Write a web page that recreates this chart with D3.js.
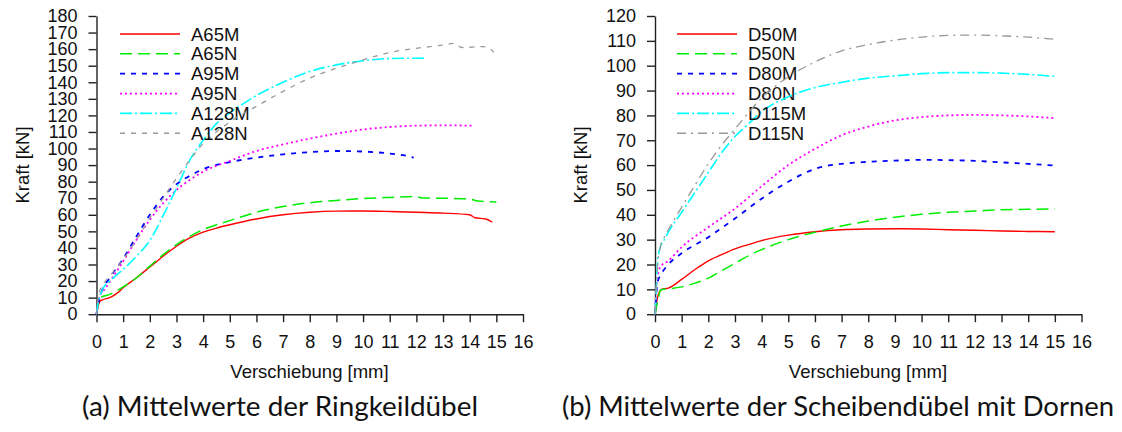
<!DOCTYPE html>
<html>
<head>
<meta charset="utf-8">
<script src="https://cdn.jsdelivr.net/npm/d3@7"></script>
<style>
  body { margin: 0; background: #fff; }
  .axis text { font-family: "Liberation Sans", Arial, sans-serif; font-size: 18px; fill: #111; }
  .axis path, .axis line { stroke: #222; stroke-width: 1.4; }
  .lbl { font-family: "Liberation Sans", Arial, sans-serif; font-size: 18.5px; fill: #111; }
  .cap { font-family: "Lato", sans-serif; font-size: 27px; fill: #111; }
</style>
</head>
<body>
<svg id="chart" width="1122" height="432"></svg>
<script>
// Ringkeildübel (a) -- [Verschiebung mm, Kraft kN]
const A65M = [[0,0],[0.05,4],[0.12,7.5],[0.2,8.5],[0.5,10],[0.8,13],[1,16],[1.5,22],[2,28.5],[2.5,35],[3,41],[3.5,46],[4,49.5],[4.5,52],[5,54],[6,57.5],[7,60],[8,61.5],[9,62.2],[10,62.3],[11,62],[12,61.5],[13,61],[14,60],[14.2,58.2],[14.6,57.5],[14.85,55.5]];
const A65N = [[0,0],[0.05,5],[0.15,10],[0.5,12],[1,16.5],[1.5,22],[2,29],[2.5,36],[3,42],[3.5,47],[4,51],[4.5,54],[5,56.5],[6,61.5],[7,65],[8,67.3],[9,68.7],[10,69.8],[11,70.5],[12,71],[12.2,70.2],[13,70],[14,69.5],[14.3,68.3],[15,67.8]];
const A95M = [[0,0],[0.05,5],[0.12,10],[0.2,14],[0.5,22],[1,33.5],[1.5,47],[2,60],[2.5,71],[3,78.5],[3.5,83.5],[4,87.5],[5,91.8],[6,94.5],[7,96.5],[8,97.8],[9,98.5],[10,98.2],[11,97],[11.5,96],[11.9,94.5]];
const A95N = [[0,0],[0.05,6],[0.15,12],[0.3,15],[0.6,22],[1,32],[1.5,45],[2,57],[2.5,67],[3,75],[3.5,81],[4,86],[5,92.5],[6,98.5],[7,102.5],[8,106],[9,109],[10,111.5],[11,113],[12,113.8],[13,114],[14.1,113.8]];
const A128M = [[0,0],[0.05,6],[0.15,12],[0.3,17],[0.5,20],[1,27],[1.5,35],[2,44.5],[2.5,59.5],[3,76],[3.5,93],[4,105],[4.5,115],[5,121.5],[5.5,127],[6,132],[7,140],[8,146.5],[9,150.5],[10,153],[11,154.3],[12,154.5],[12.4,154.5]];
const A128N = [[0,0],[0.05,8],[0.1,13],[0.3,19],[0.6,25],[1,33],[1.5,45],[2,58],[2.5,70],[3,82],[3.5,93],[4,103],[4.5,110],[5,116],[6,125.5],[7,134.5],[8,142.5],[9,148.5],[10,153.5],[11,158],[12,160.5],[13,162.5],[13.4,163.5],[13.7,161],[14.5,161.5],[14.7,161],[14.9,158]];

// Scheibendübel mit Dornen (b)
const D50M = [[0,0],[0.1,7],[0.25,10],[0.5,10.5],[1,14],[1.5,18],[2,21.5],[2.5,24],[3,26.3],[3.5,28],[4,29.6],[5,31.8],[6,33.2],[7,34],[8,34.3],[9,34.4],[10,34.3],[11,34],[12,33.8],[13,33.5],[14,33.3],[15,33.2]];
const D50N = [[0,0],[0.1,5],[0.2,9.5],[0.3,10],[0.5,10.2],[1,11],[1.5,12.5],[2,14.5],[2.5,17.5],[3,20.5],[3.5,23.5],[4,26],[5,30],[6,33],[6.5,34.3],[7,35.5],[8,37.5],[9,39],[10,40.2],[11,41],[12,41.5],[13,42],[14,42.2],[15,42.4]];
const D80M = [[0,0],[0.05,8],[0.1,13],[0.2,15.5],[0.5,20],[1,24.5],[2,31],[3,38.5],[4,46.5],[5,53.3],[6,58.5],[7,60.5],[8,61.3],[9,61.8],[10,62.1],[11,62],[12,61.7],[13,61.1],[14,60.5],[15,59.8]];
const D80N = [[0,0],[0.05,10],[0.1,15],[0.2,19],[0.5,21.5],[1,27],[2,35],[3,42.5],[4,51.5],[5,60],[6,66.5],[7,72],[8,75.5],[9,78],[10,79.3],[11,80],[12,80.2],[13,80],[14,79.6],[15,78.9]];
const D115M = [[0,0],[0.05,10],[0.1,22],[0.2,27],[0.35,30],[0.5,33],[1,41],[1.5,49],[2,57],[2.5,65],[3,71.5],[3.5,76.5],[4,81.5],[5,87.5],[6,91.2],[7,93.3],[8,95],[9,95.9],[10,96.8],[11,97.2],[12,97.2],[13,97],[14,96.5],[15,95.7]];
const D115N = [[0,0],[0.05,12],[0.1,20],[0.2,27],[0.35,31],[0.5,34],[1,43],[1.5,52],[2,60.5],[2.5,68],[3,74.5],[3.5,81],[4,87],[5,95.5],[6,101.5],[7,106],[8,108.5],[9,110.3],[10,111.5],[11,112.2],[12,112.3],[13,112],[14,111.5],[15,110.6]];

const xTicks = d3.range(0, 17, 1);
const yTicksA = d3.range(0, 181, 10);
const yTicksB = d3.range(0, 121, 10);

const styles = [
    { color: '#ff0000', dash: null, width: 1.4 },
    { color: '#00ee00', dash: '12,6', width: 1.5 },
    { color: '#0000ff', dash: '5,6', width: 1.8 },
    { color: '#ff00ff', dash: '2,3', width: 1.8 },
    { color: '#00ffff', dash: '12,3,2,3', width: 1.6 },
    { color: '#999999', dash: '5,6', width: 1.3 }
];
const stylesB = styles.slice(0, 5).concat([{ color: '#999999', dash: '9,5,2,5', width: 1.3 }]);

const svg = d3.select('#chart');

function drawPanel(cfg) {
    const x = d3.scaleLinear().domain([0, 16]).range([cfg.left, cfg.left + 426.5]);
    const y = d3.scaleLinear().domain([0, cfg.ymax]).range([314.2, 16]);

    svg.append('g')
        .attr('class', 'axis')
        .attr('transform', 'translate(0,314.2)')
        .call(d3.axisBottom(x).tickValues(xTicks).tickSize(8).tickSizeOuter(0).tickPadding(13));

    svg.append('g')
        .attr('class', 'axis')
        .attr('transform', `translate(${cfg.left},0)`)
        .call(d3.axisLeft(y).tickValues(cfg.yTicks).tickSize(8).tickSizeOuter(0).tickPadding(11));

    const line = d3.line()
        .x(d => x(d[0]))
        .y(d => y(d[1]))
        .curve(d3.curveMonotoneX);

    cfg.series.forEach((s, i) => {
        const st = cfg.styles[i];
        svg.append('path')
            .datum(s.data)
            .attr('fill', 'none')
            .attr('stroke', st.color)
            .attr('stroke-width', st.width)
            .attr('stroke-dasharray', st.dash)
            .attr('d', line);

        const ly = 34 + i * 19.85;
        svg.append('line')
            .attr('x1', cfg.legX).attr('x2', cfg.legX + 60)
            .attr('y1', ly).attr('y2', ly)
            .attr('stroke', st.color)
            .attr('stroke-width', st.width)
            .attr('stroke-dasharray', st.dash);
        svg.append('text')
            .attr('class', 'lbl')
            .attr('x', cfg.legX + 71)
            .attr('y', ly + 6.6)
            .text(s.name);
    });

    svg.append('text')
        .attr('class', 'lbl')
        .attr('text-anchor', 'middle')
        .attr('x', cfg.left + 213)
        .attr('y', 377.5)
        .text('Verschiebung [mm]');

    svg.append('text')
        .attr('class', 'lbl')
        .attr('text-anchor', 'middle')
        .attr('transform', `translate(${cfg.left - 68},165) rotate(-90)`)
        .text('Kraft [kN]');

    svg.append('text')
        .attr('class', 'cap')
        .attr('x', cfg.capX)
        .attr('y', 416)
        .attr('textLength', cfg.capW)
        .attr('lengthAdjust', 'spacingAndGlyphs')
        .text(cfg.caption);
}

drawPanel({
    left: 96.5, ymax: 180, yTicks: yTicksA, legX: 120, styles: styles,
    series: [
        { name: 'A65M', data: A65M }, { name: 'A65N', data: A65N },
        { name: 'A95M', data: A95M }, { name: 'A95N', data: A95N },
        { name: 'A128M', data: A128M }, { name: 'A128N', data: A128N }
    ],
    caption: '(a) Mittelwerte der Ringkeildübel', capX: 82, capW: 396
});

drawPanel({
    left: 655, ymax: 120, yTicks: yTicksB, legX: 677, styles: stylesB,
    series: [
        { name: 'D50M', data: D50M }, { name: 'D50N', data: D50N },
        { name: 'D80M', data: D80M }, { name: 'D80N', data: D80N },
        { name: 'D115M', data: D115M }, { name: 'D115N', data: D115N }
    ],
    caption: '(b) Mittelwerte der Scheibendübel mit Dornen', capX: 562, capW: 552
});
</script>
</body>
</html>
